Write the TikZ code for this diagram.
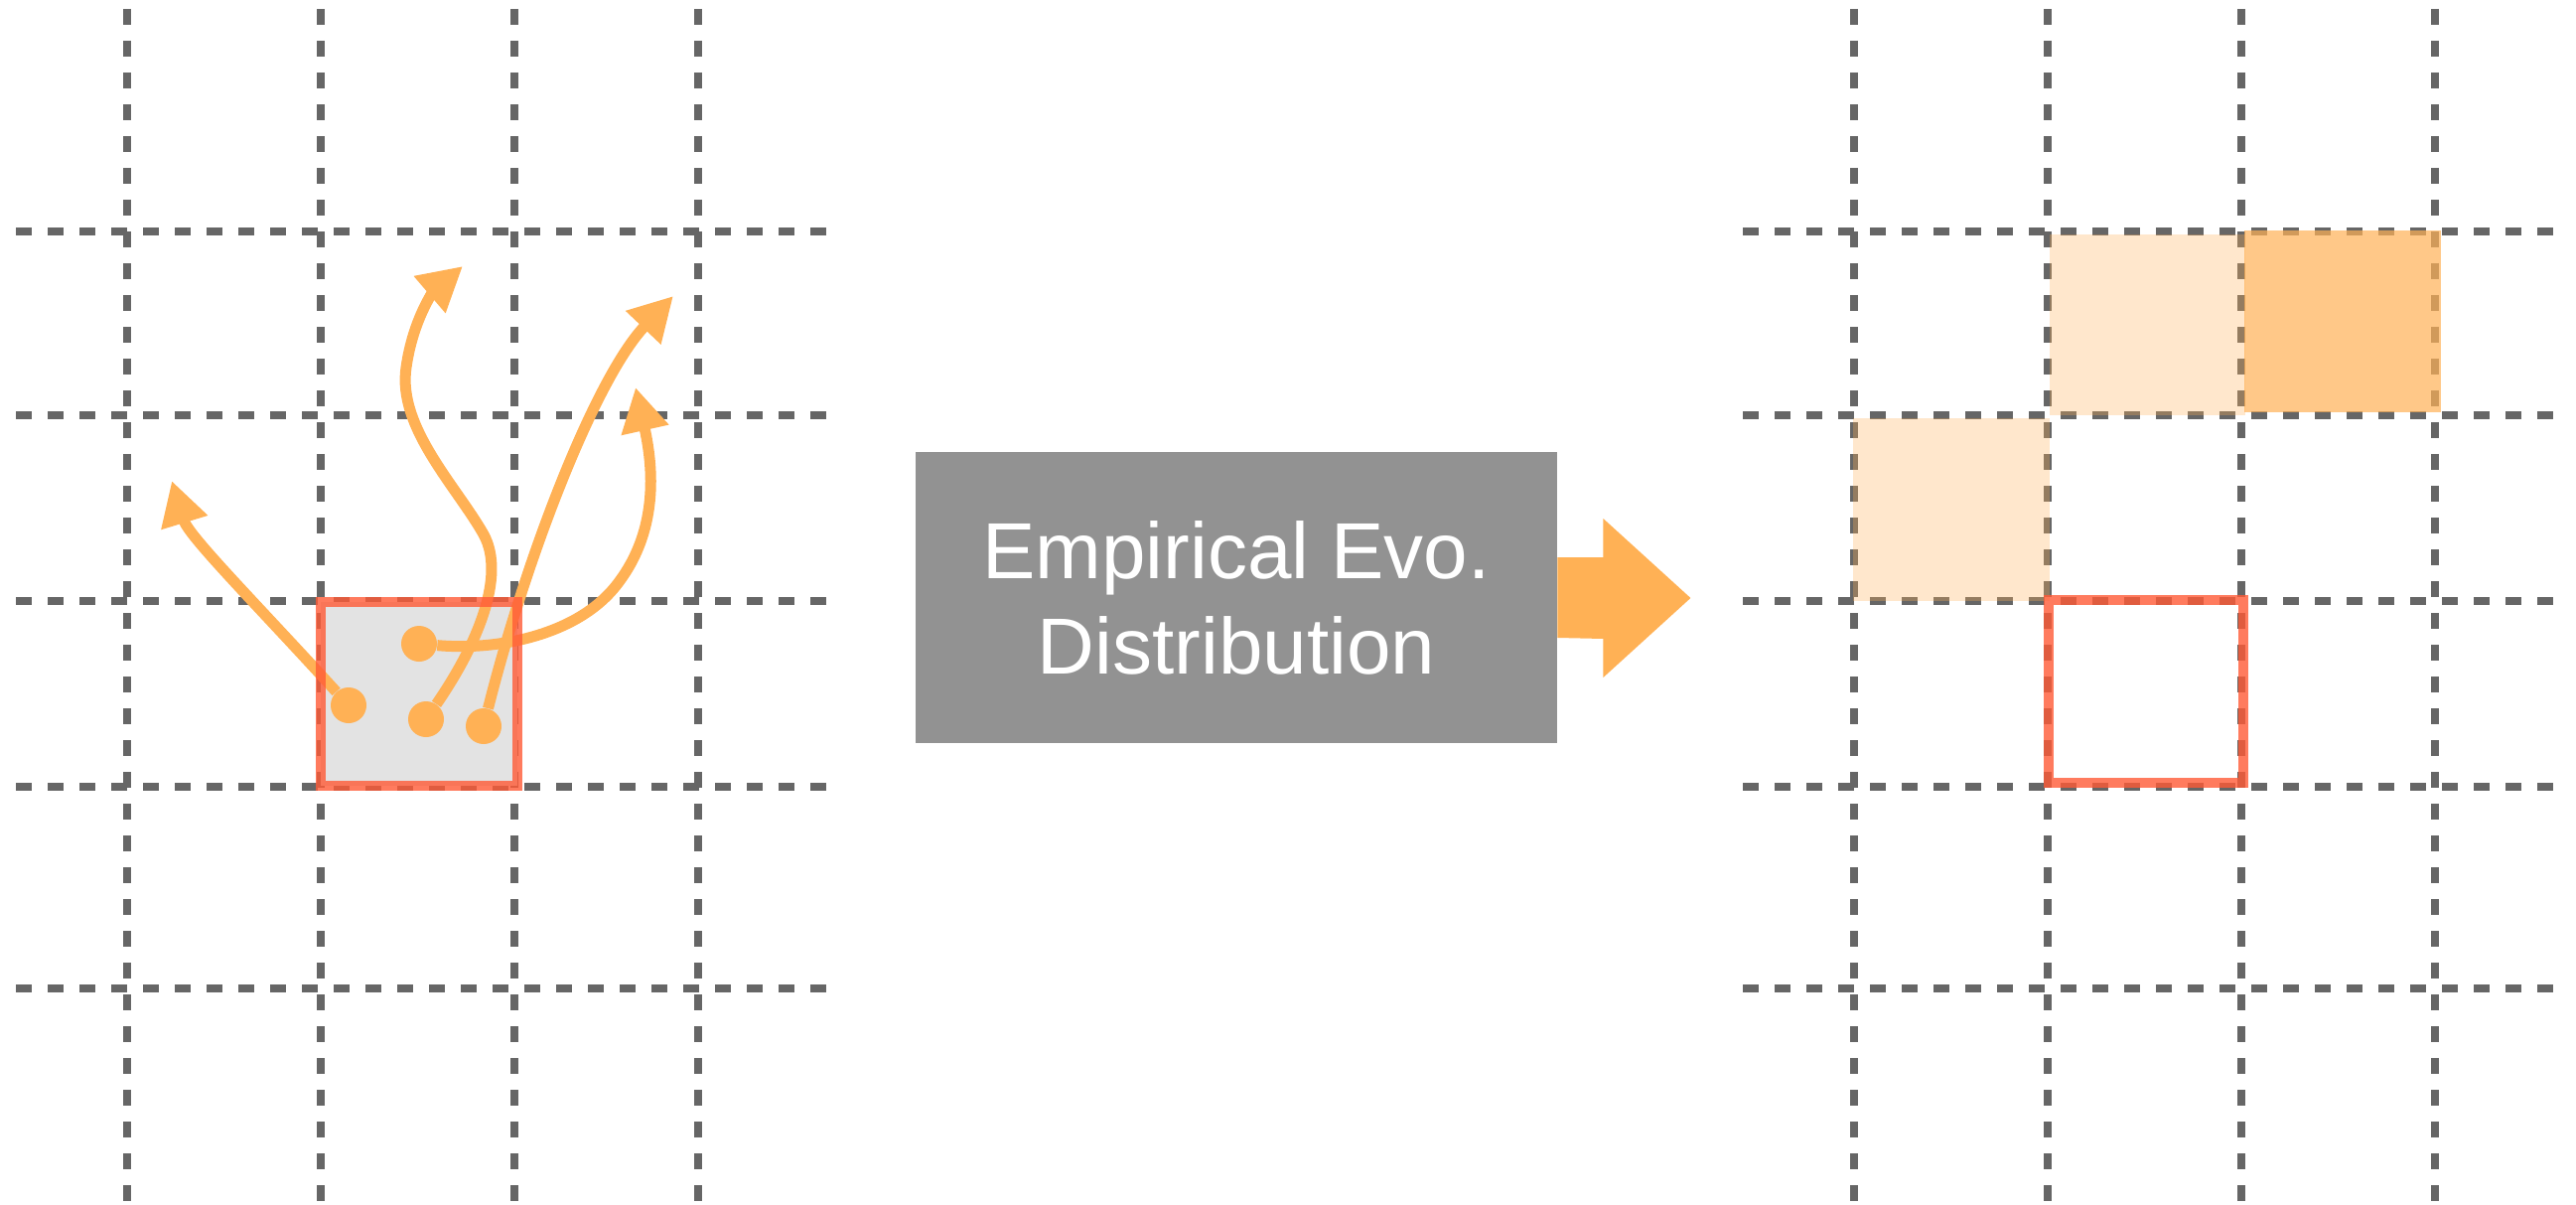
\documentclass[tikz,border=0pt]{standalone}
\usepackage{fontspec}
\setmainfont{Liberation Sans}
\usepackage{tikz}
\definecolor{gl}{RGB}{102, 102, 102}
\definecolor{og}{RGB}{255, 177, 85}
\definecolor{rd}{RGB}{255, 90, 54}
\definecolor{cc}{RGB}{227, 227, 227}
\definecolor{bx}{RGB}{146, 146, 146}
\usetikzlibrary{arrows.meta}

\begin{document}
\begin{tikzpicture}[x=0.5pt, y=-0.5pt,
gridline/.style={line width=4pt, color=gl, dash pattern=on 8pt off 8pt},
dot/.style={circle, minimum size=18pt, inner sep=0pt, fill=og},
traj/.style={line width=5.5pt, color=og, -{Triangle[length=22pt, width=23pt]}},
cellbox/.style={line width=5pt, draw=rd, draw opacity=0.8}]
\useasboundingbox (0, 0) rectangle (2594, 1213);
\foreach \x in {128, 323, 518, 703, 1867, 2062, 2257, 2452}
  \draw [gridline] (\x, 9) -- (\x, 1213);
\foreach \y in {233, 418, 605, 792, 995} {
  \draw [gridline] (16, \y) -- (840, \y);
  \draw [gridline] (1755, \y) -- (2580, \y);
}
\fill [cc] (322.5, 606) rectangle (521, 791);
\node (a) [dot] at (422, 648) {};
\node (b) [dot] at (351, 710) {};
\node (c) [dot] at (429, 724) {};
\node (d) [dot] at (487, 731) {};
\coordinate (ta) at (640, 390);
\coordinate (tb) at (173, 484);
\coordinate (tc) at (466, 268);
\coordinate (td) at (678, 298);
\draw [traj] (b) .. controls (260, 610) and (190, 540) .. (tb);
\draw [traj] (c) .. controls (480, 650) and (510, 580) .. (487, 538)
  .. controls (460, 490) and (400, 430) .. (409, 370)
  .. controls (416, 320) and (438, 292) .. (tc);
\draw [traj] (d) .. controls (530, 560) and (600, 380) .. (td);
\draw [traj] (a) .. controls (500, 655) and (580, 640) .. (620, 590)
  .. controls (660, 540) and (660, 480) .. (ta);
\draw [cellbox] (322.5, 606) rectangle (521, 791);
\node (evo) [fill=bx, minimum width=323pt, minimum height=146.5pt, text=white, align=center, font=\fontsize{40}{48}\selectfont] at (1245, 601.5) {Empirical Evo.\\Distribution};
\fill [og] ([yshift=20.25pt]evo.east) -- ++(46, 0) -- ++(0, -39) -- ++(88, 80) -- ++(-88, 80) -- ++(0, -39) -- ([yshift=-20.25pt]evo.east) -- cycle;
\fill [og, opacity=0.3] (2064, 236) rectangle (2261, 418);
\fill [og, opacity=0.7] (2260, 232) rectangle (2458, 415);
\fill [og, opacity=0.3] (1866, 421) rectangle (2064, 605);
\draw [cellbox] (2063, 604) rectangle (2259, 788);
\end{tikzpicture}
\end{document}
